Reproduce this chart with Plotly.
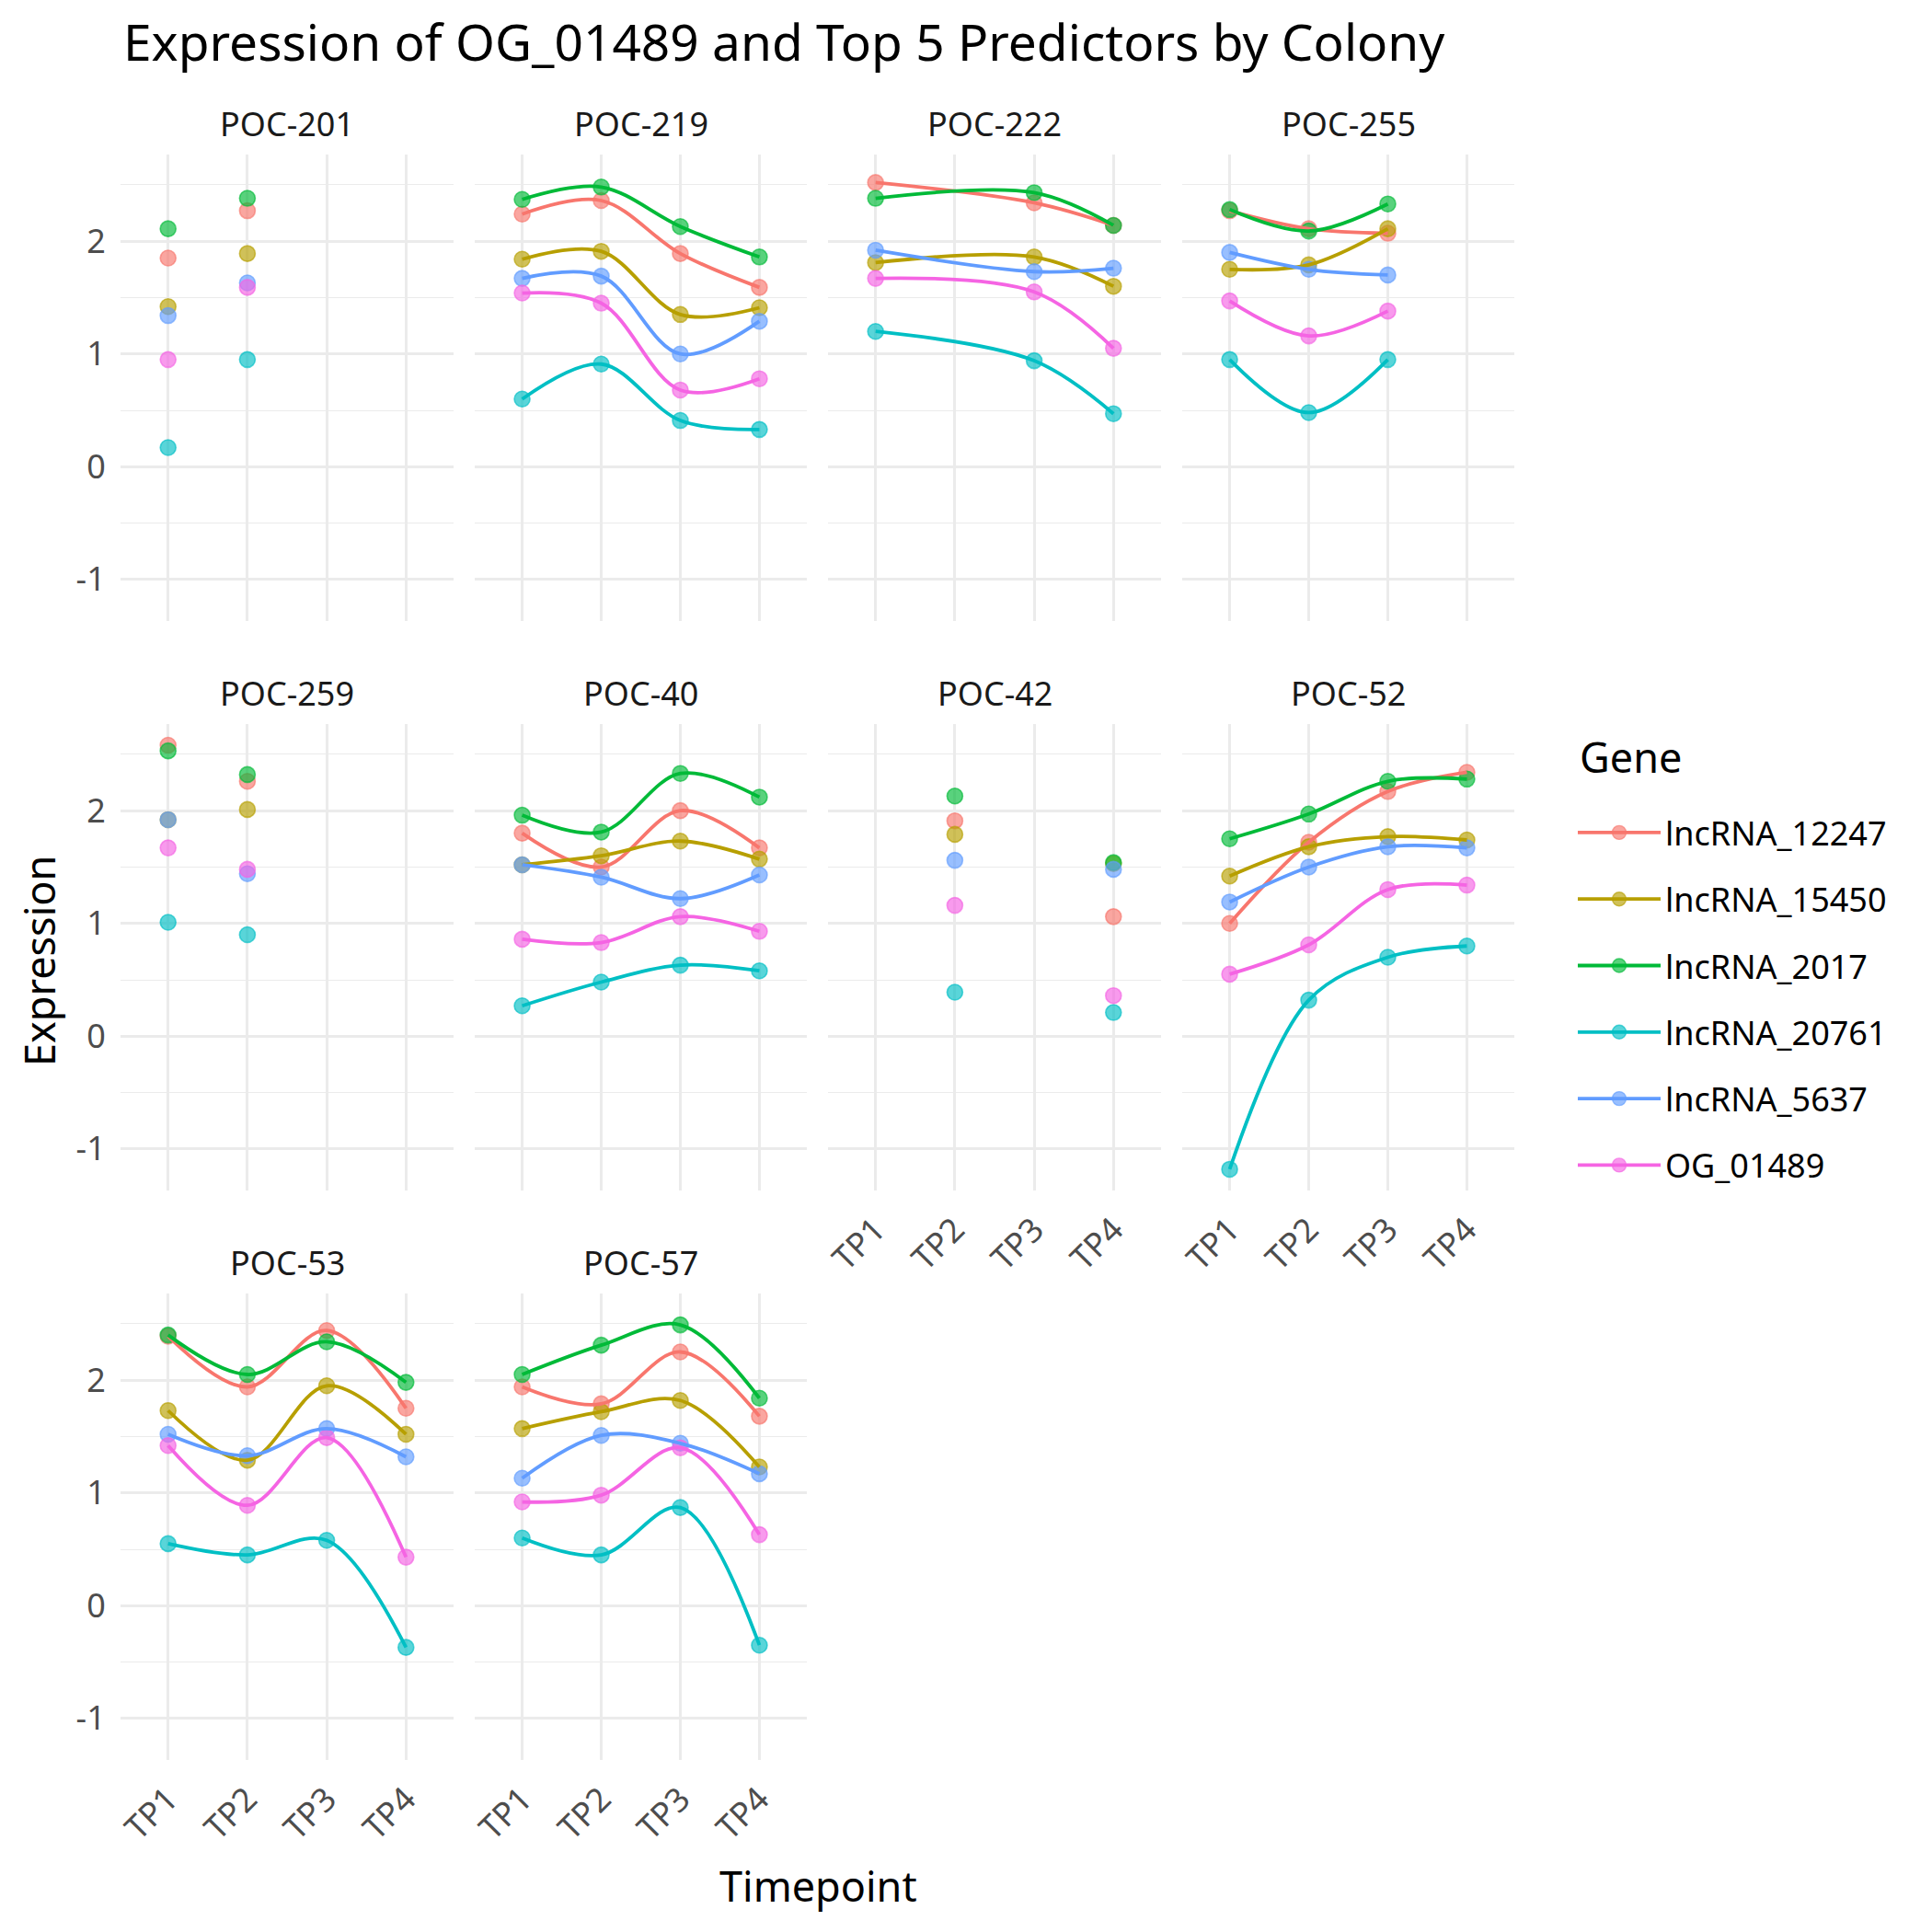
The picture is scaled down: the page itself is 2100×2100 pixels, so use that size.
import plotly.graph_objects as go

timepoints = ['TP1', 'TP2', 'TP3', 'TP4']
colonies = ['POC-201', 'POC-219', 'POC-222', 'POC-255', 'POC-259',
            'POC-40', 'POC-42', 'POC-52', 'POC-53', 'POC-57']
genes = ['lncRNA_12247', 'lncRNA_15450', 'lncRNA_2017', 'lncRNA_20761', 'lncRNA_5637', 'OG_01489']
gene_colors = ['#F8766D', '#B79F00', '#00BA38', '#00BFC4', '#619CFF', '#F564E3']
y_ticks = [-1, 0, 1, 2]
y_tick_labels = ['-1', '0', '1', '2']

# one row per colony (same order as colonies), one value per timepoint
lncRNA_12247 = [
    [1.85, 2.27, None, None],
    [2.24, 2.36, 1.89, 1.59],
    [2.52, None, 2.34, 2.14],
    [2.27, 2.11, 2.07, None],
    [2.58, 2.26, None, None],
    [1.80, 1.50, 2.00, 1.67],
    [None, 1.91, None, 1.06],
    [1.00, 1.72, 2.17, 2.34],
    [2.39, 1.94, 2.44, 1.75],
    [1.94, 1.79, 2.25, 1.68],
]
lncRNA_15450 = [
    [1.42, 1.89, None, None],
    [1.84, 1.91, 1.35, 1.41],
    [1.81, None, 1.86, 1.60],
    [1.75, 1.79, 2.11, None],
    [1.92, 2.01, None, None],
    [1.52, 1.60, 1.73, 1.57],
    [None, 1.79, None, 1.53],
    [1.42, 1.68, 1.77, 1.74],
    [1.73, 1.29, 1.95, 1.52],
    [1.57, 1.72, 1.82, 1.23],
]
lncRNA_2017 = [
    [2.11, 2.38, None, None],
    [2.37, 2.48, 2.13, 1.86],
    [2.38, None, 2.43, 2.14],
    [2.28, 2.09, 2.33, None],
    [2.53, 2.32, None, None],
    [1.96, 1.81, 2.33, 2.12],
    [None, 2.13, None, 1.54],
    [1.75, 1.97, 2.26, 2.28],
    [2.40, 2.05, 2.34, 1.98],
    [2.05, 2.31, 2.49, 1.84],
]
lncRNA_20761 = [
    [0.17, 0.95, None, None],
    [0.60, 0.91, 0.41, 0.33],
    [1.20, None, 0.94, 0.47],
    [0.95, 0.48, 0.95, None],
    [1.01, 0.90, None, None],
    [0.27, 0.48, 0.63, 0.58],
    [None, 0.39, None, 0.21],
    [-1.18, 0.32, 0.70, 0.80],
    [0.55, 0.45, 0.58, -0.37],
    [0.60, 0.45, 0.87, -0.35],
]
lncRNA_5637 = [
    [1.34, 1.63, None, None],
    [1.67, 1.69, 1.00, 1.29],
    [1.92, None, 1.73, 1.76],
    [1.90, 1.75, 1.70, None],
    [1.92, 1.44, None, None],
    [1.52, 1.41, 1.22, 1.43],
    [None, 1.56, None, 1.48],
    [1.19, 1.50, 1.68, 1.67],
    [1.52, 1.33, 1.57, 1.32],
    [1.13, 1.51, 1.44, 1.17],
]
OG_01489 = [
    [0.95, 1.59, None, None],
    [1.54, 1.45, 0.68, 0.78],
    [1.67, None, 1.55, 1.05],
    [1.47, 1.16, 1.38, None],
    [1.67, 1.48, None, None],
    [0.86, 0.83, 1.06, 0.93],
    [None, 1.16, None, 0.36],
    [0.55, 0.81, 1.30, 1.34],
    [1.42, 0.89, 1.49, 0.43],
    [0.92, 0.98, 1.40, 0.63],
]

expression = [lncRNA_12247, lncRNA_15450, lncRNA_2017, lncRNA_20761, lncRNA_5637, OG_01489]

W = H = 2100
OFF = 8  # page body margin
FONT = 'Noto Sans'
GRID = '#EBEBEB'

# panel boxes in page pixels (left, right) and (top, bottom)
col_px = [(131, 493), (516, 877), (900, 1262), (1285, 1646)]
row_px = [(168, 675), (787, 1294), (1406, 1913)]


def px(x):
    return (x - OFF) / W


def py(y):
    return 1 - (y - OFF) / H


def rgba(hex_color, a):
    h = hex_color.lstrip('#')
    return f'rgba({int(h[0:2], 16)},{int(h[2:4], 16)},{int(h[4:6], 16)},{a})'


all_vals = [v for g in expression for row in g for v in row if v is not None]
lo, hi = min(all_vals), max(all_vals)
pad = (hi - lo) * 0.05
y_range = [lo - pad, hi + pad]

fig = go.Figure()

# points first, smoothed lines on top (like the ggplot layers)
for mode in ['markers', 'lines']:
    for p, colony in enumerate(colonies):
        ax = '' if p == 0 else str(p + 1)
        for g, gene in enumerate(genes):
            vals = expression[g][p]
            xs = [tp for tp, v in zip(timepoints, vals) if v is not None]
            ys = [v for v in vals if v is not None]
            if mode == 'lines' and len(ys) < 3:
                continue
            col = gene_colors[g]
            if mode == 'markers':
                fig.add_trace(go.Scatter(
                    x=xs, y=ys, mode='markers', xaxis='x' + ax, yaxis='y' + ax,
                    marker=dict(size=17, color=rgba(col, 0.65), line=dict(width=1.6, color=rgba(col, 0.65))),
                    showlegend=False, hoverinfo='skip'))
            else:
                fig.add_trace(go.Scatter(
                    x=xs, y=ys, mode='lines', xaxis='x' + ax, yaxis='y' + ax,
                    line=dict(color=col, width=3.8, shape='spline', smoothing=1.0),
                    showlegend=False, hoverinfo='skip'))

# legend entries
for g, gene in enumerate(genes):
    col = gene_colors[g]
    fig.add_trace(go.Scatter(
        x=[None], y=[None], mode='lines+markers', name=gene, legendgroup=gene,
        line=dict(color=col, width=3.8),
        marker=dict(size=15, color=rgba(col, 0.65), line=dict(width=1.4, color=rgba(col, 0.65)))))

layout = {}
annotations = []
for p, colony in enumerate(colonies):
    r, c = divmod(p, 4)
    ax = '' if p == 0 else str(p + 1)
    x0, x1 = col_px[c]
    y0, y1 = row_px[r]
    bottom = (r == 2) if c < 2 else (r == 1)
    layout['xaxis' + ax] = dict(
        domain=[px(x0), px(x1)], anchor='y' + ax, type='category',
        categoryorder='array', categoryarray=timepoints, range=[-0.6, 3.6],
        showgrid=True, gridcolor=GRID, gridwidth=2.7, zeroline=False, showline=False,
        showticklabels=bottom, tickangle=-45, ticks='outside', ticklen=6,
        tickcolor='rgba(0,0,0,0)', tickfont=dict(family=FONT, size=36, color='#4D4D4D'))
    layout['yaxis' + ax] = dict(
        domain=[py(y1), py(y0)], anchor='x' + ax, range=y_range,
        tickmode='array', tickvals=y_ticks, ticktext=y_tick_labels,
        showgrid=True, gridcolor=GRID, gridwidth=2.7, zeroline=False,
        showline=False, showticklabels=(c == 0), ticks='outside', ticklen=8,
        tickcolor='rgba(0,0,0,0)', tickfont=dict(family=FONT, size=36, color='#4D4D4D'),
        minor=dict(tickmode='array', tickvals=[-1.5, -0.5, 0.5, 1.5, 2.5],
                   showgrid=True, gridcolor=GRID, gridwidth=1.35))
    annotations.append(dict(
        text=colony, x=px((x0 + x1) / 2), y=py(y0 - 34), xref='paper', yref='paper',
        xanchor='center', yanchor='middle', showarrow=False,
        font=dict(family=FONT, size=36, color='#1A1A1A')))

annotations.append(dict(
    text='Expression', x=px(42), y=py(1045), xref='paper', yref='paper', textangle=-90,
    xanchor='center', yanchor='middle', showarrow=False, font=dict(family=FONT, size=45, color='black')))
annotations.append(dict(
    text='Timepoint', x=px(889), y=py(2049), xref='paper', yref='paper',
    xanchor='center', yanchor='middle', showarrow=False, font=dict(family=FONT, size=45, color='black')))
annotations.append(dict(
    text='Gene', x=px(1715), y=py(823), xref='paper', yref='paper',
    xanchor='left', yanchor='middle', showarrow=False, font=dict(family=FONT, size=45, color='black')))

fig.update_layout(**layout)
fig.update_layout(
    width=W, height=H,
    margin=dict(l=0, r=0, t=0, b=0, autoexpand=False),
    paper_bgcolor='white', plot_bgcolor='white',
    font=dict(family=FONT, color='black'),
    title=dict(text='Expression of OG_01489 and Top 5 Predictors by Colony', x=px(134), xanchor='left',
               y=py(47), yanchor='middle', font=dict(family=FONT, size=55, color='black')),
    annotations=annotations,
    legend=dict(font=dict(family=FONT, size=36, color='black'),
                x=px(1710), xanchor='left', y=py(875), yanchor='top',
                tracegroupgap=22.5, itemwidth=90, bgcolor='rgba(0,0,0,0)'),
)

fig.write_html('out.html')
